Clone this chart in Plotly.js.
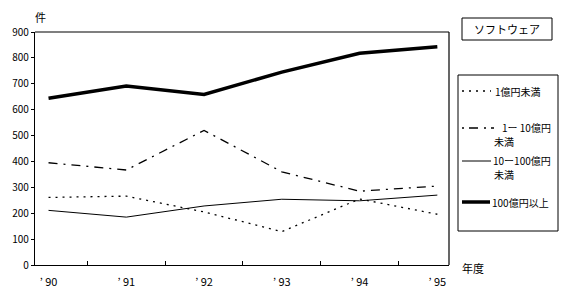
<!DOCTYPE html>
<html><head><meta charset="utf-8">
<script src="https://cdn.plot.ly/plotly-3.0.1.min.js"></script>
<style>body{margin:0;background:#fff}#c{width:569px;height:307px}</style>
</head><body><div id="c"></div>
<script>
const years = ["’ 90","’ 91","’ 92","’ 93","’ 94","’ 95"];
const yearIdx = [0,1,2,3,4,5];
const under1 = [261, 266, 205, 129, 255, 196];
const from1to10 = [395, 367, 520, 360, 285, 305];
const from10to100 = [211, 185, 228, 254, 248, 270];
const over100 = [644, 691, 659, 745, 818, 843];
const yTicks = [0,100,200,300,400,500,600,700,800,900];

const L=35, R=449, T=32, B=265, W=569, H=307;
const px = x => (x-L)/(R-L);
const py = y => (B-y)/(B-T);
const font = "'Noto Sans CJK JP', sans-serif";

const traces = [
  {x:yearIdx, y:under1, mode:'lines', line:{color:'#000', width:1.3, dash:'2px,5px'}},
  {x:yearIdx, y:from1to10, mode:'lines', line:{color:'#000', width:1.3, dash:'9px,6px,2px,6px'}},
  {x:yearIdx, y:from10to100, mode:'lines', line:{color:'#000', width:1}},
  {x:yearIdx, y:over100, mode:'lines', line:{color:'#000', width:3.5}},
  {x:[0.5,1.5,2.5,3.5,4.5], y:[0,0,0,0,0], xaxis:'x2', mode:'none', hoverinfo:'skip'}
];

const shapes = [
  {type:'rect', xref:'paper', yref:'paper', x0:px(462), x1:px(552), y0:py(18), y1:py(40), line:{color:'#000', width:1}},
  {type:'rect', xref:'paper', yref:'paper', x0:px(458), x1:px(558), y0:py(75), y1:py(231), line:{color:'#000', width:1}},
  {type:'line', xref:'paper', yref:'paper', x0:px(462), x1:px(491), y0:py(91), y1:py(91), line:{color:'#000', width:1.3, dash:'2px,5px'}},
  {type:'line', xref:'paper', yref:'paper', x0:px(462), x1:px(494), y0:py(128), y1:py(128), line:{color:'#000', width:1.3, dash:'2px,5px,9px,6px'}},
  {type:'line', xref:'paper', yref:'paper', x0:px(462), x1:px(491), y0:py(161), y1:py(161), line:{color:'#000', width:1}},
  {type:'line', xref:'paper', yref:'paper', x0:px(462), x1:px(490), y0:py(202), y1:py(202), line:{color:'#000', width:3.5}},
  {type:'line', xref:'paper', yref:'paper', x0:0, x1:1, y0:1, y1:1, line:{color:'#000', width:1.2}},
  {type:'line', xref:'paper', yref:'paper', x0:1, x1:1, y0:0, y1:1, line:{color:'#000', width:1.2}}
];

const ann = (text, x, y, anchor, size) => ({text, xref:'paper', yref:'paper', x:px(x), y:py(y), xanchor:anchor||'left', yanchor:'middle', showarrow:false, font:{family:font, size:size||11, color:'#000'}});
const annotations = [
  ann('件', 33, 17),
  ann('年度', 460, 268),
  ann('ソフトウェア', 507, 29, 'center'),
  ann('1億円未満', 493, 91, 'left', 10),
  ann('1ー 10億円', 500, 127, 'left', 10),
  ann('未満', 492, 141, 'left', 10),
  ann('10ー100億円', 491, 160, 'left', 10),
  ann('未満', 492, 174, 'left', 10),
  ann('100億円以上', 490, 202, 'left', 10)
];

const layout = {
  width:W, height:H, margin:{l:L, r:W-R, t:T, b:H-B},
  paper_bgcolor:'#fff', plot_bgcolor:'#fff', showlegend:false,
  xaxis:{range:[-0.174,5.15], tickvals:yearIdx, ticktext:years, ticks:'', ticklabelstandoff:7, showgrid:false, zeroline:false,
    showline:true, linecolor:'#000', linewidth:1.2, tickfont:{family:font, size:11, color:'#000'}, fixedrange:true},
  xaxis2:{overlaying:'x', side:'bottom', range:[-0.174,5.15], tickvals:[0.5,1.5,2.5,3.5,4.5], ticks:'inside', ticklen:4,
    tickcolor:'#000', showticklabels:false, showgrid:false, zeroline:false, showline:false},
  yaxis:{range:[0,900], tickvals:yTicks, ticks:'outside', ticklen:3, tickcolor:'#000', showgrid:false, zeroline:false,
    showline:true, linecolor:'#000', linewidth:1.2, tickfont:{family:font, size:10, color:'#000'}, fixedrange:true},
  shapes, annotations
};
Plotly.newPlot('c', traces, layout, {staticPlot:true});
</script></body></html>
